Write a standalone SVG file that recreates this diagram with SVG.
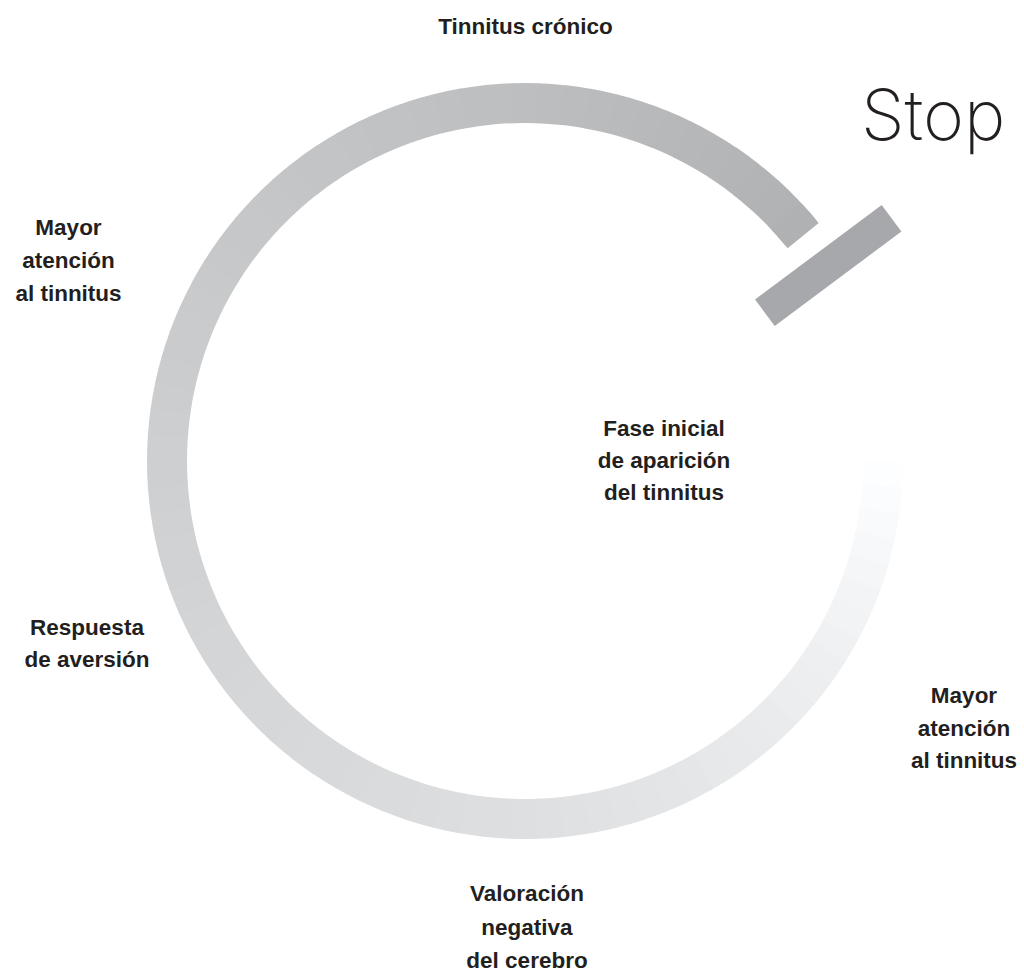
<svg xmlns="http://www.w3.org/2000/svg" width="1024" height="973" viewBox="0 0 1024 973">
<style>
.seg{fill:none;stroke-width:40;stroke-dasharray:26 3000}
.lbl{font-family:"Liberation Sans",Arial,sans-serif;font-weight:bold;font-size:22.5px;fill:#231f20;text-anchor:middle}
.stop{font-family:Inter,Roboto,"Liberation Sans",sans-serif;font-weight:200;font-size:70px;fill:#231f20}
</style>
<rect width="1024" height="973" fill="#ffffff"/>
<g id="connectors">
<g id="cycle-ring" transform="translate(525 461)">
<circle class="seg" r="358" transform="rotate(0)" stroke="#fdfeff"/>
<circle class="seg" r="358" transform="rotate(4)" stroke="#fbfcfe"/>
<circle class="seg" r="358" transform="rotate(8)" stroke="#f9fafc"/>
<circle class="seg" r="358" transform="rotate(12)" stroke="#f7f8fa"/>
<circle class="seg" r="358" transform="rotate(16)" stroke="#f5f6f8"/>
<circle class="seg" r="358" transform="rotate(20)" stroke="#f3f4f6"/>
<circle class="seg" r="358" transform="rotate(24)" stroke="#f2f3f5"/>
<circle class="seg" r="358" transform="rotate(28)" stroke="#f0f1f3"/>
<circle class="seg" r="358" transform="rotate(32)" stroke="#eeeff1"/>
<circle class="seg" r="358" transform="rotate(36)" stroke="#edeef0"/>
<circle class="seg" r="358" transform="rotate(40)" stroke="#ecedef"/>
<circle class="seg" r="358" transform="rotate(44)" stroke="#eaebed"/>
<circle class="seg" r="358" transform="rotate(48)" stroke="#e9eaec"/>
<circle class="seg" r="358" transform="rotate(52)" stroke="#e8e9eb"/>
<circle class="seg" r="358" transform="rotate(56)" stroke="#e7e8ea"/>
<circle class="seg" r="358" transform="rotate(60)" stroke="#e5e6e8"/>
<circle class="seg" r="358" transform="rotate(64)" stroke="#e4e5e7"/>
<circle class="seg" r="358" transform="rotate(68)" stroke="#e3e4e6"/>
<circle class="seg" r="358" transform="rotate(72)" stroke="#e2e3e5"/>
<circle class="seg" r="358" transform="rotate(76)" stroke="#e1e2e4"/>
<circle class="seg" r="358" transform="rotate(80)" stroke="#e0e1e3"/>
<circle class="seg" r="358" transform="rotate(84)" stroke="#dfe0e2"/>
<circle class="seg" r="358" transform="rotate(88)" stroke="#dedfe1"/>
<circle class="seg" r="358" transform="rotate(92)" stroke="#dddee0"/>
<circle class="seg" r="358" transform="rotate(96)" stroke="#dddee0"/>
<circle class="seg" r="358" transform="rotate(100)" stroke="#dcdddf"/>
<circle class="seg" r="358" transform="rotate(104)" stroke="#dbdcde"/>
<circle class="seg" r="358" transform="rotate(108)" stroke="#dadbdd"/>
<circle class="seg" r="358" transform="rotate(112)" stroke="#dadbdd"/>
<circle class="seg" r="358" transform="rotate(116)" stroke="#d9dadc"/>
<circle class="seg" r="358" transform="rotate(120)" stroke="#d8d9db"/>
<circle class="seg" r="358" transform="rotate(124)" stroke="#d8d9db"/>
<circle class="seg" r="358" transform="rotate(128)" stroke="#d7d8da"/>
<circle class="seg" r="358" transform="rotate(132)" stroke="#d6d7d9"/>
<circle class="seg" r="358" transform="rotate(136)" stroke="#d6d7d9"/>
<circle class="seg" r="358" transform="rotate(140)" stroke="#d5d6d8"/>
<circle class="seg" r="358" transform="rotate(144)" stroke="#d4d5d7"/>
<circle class="seg" r="358" transform="rotate(148)" stroke="#d4d5d7"/>
<circle class="seg" r="358" transform="rotate(152)" stroke="#d3d4d6"/>
<circle class="seg" r="358" transform="rotate(156)" stroke="#d2d3d5"/>
<circle class="seg" r="358" transform="rotate(160)" stroke="#d1d2d4"/>
<circle class="seg" r="358" transform="rotate(164)" stroke="#d1d2d4"/>
<circle class="seg" r="358" transform="rotate(168)" stroke="#d0d1d3"/>
<circle class="seg" r="358" transform="rotate(172)" stroke="#cfd0d2"/>
<circle class="seg" r="358" transform="rotate(176)" stroke="#cecfd1"/>
<circle class="seg" r="358" transform="rotate(180)" stroke="#cecfd1"/>
<circle class="seg" r="358" transform="rotate(184)" stroke="#cdced0"/>
<circle class="seg" r="358" transform="rotate(188)" stroke="#cccdcf"/>
<circle class="seg" r="358" transform="rotate(192)" stroke="#cbccce"/>
<circle class="seg" r="358" transform="rotate(196)" stroke="#cacbcd"/>
<circle class="seg" r="358" transform="rotate(200)" stroke="#cacbcd"/>
<circle class="seg" r="358" transform="rotate(204)" stroke="#c9cacc"/>
<circle class="seg" r="358" transform="rotate(208)" stroke="#c8c9cb"/>
<circle class="seg" r="358" transform="rotate(212)" stroke="#c7c8ca"/>
<circle class="seg" r="358" transform="rotate(216)" stroke="#c6c7c9"/>
<circle class="seg" r="358" transform="rotate(220)" stroke="#c6c7c9"/>
<circle class="seg" r="358" transform="rotate(224)" stroke="#c5c6c8"/>
<circle class="seg" r="358" transform="rotate(228)" stroke="#c4c5c7"/>
<circle class="seg" r="358" transform="rotate(232)" stroke="#c3c4c6"/>
<circle class="seg" r="358" transform="rotate(236)" stroke="#c3c4c6"/>
<circle class="seg" r="358" transform="rotate(240)" stroke="#c2c3c5"/>
<circle class="seg" r="358" transform="rotate(244)" stroke="#c1c2c4"/>
<circle class="seg" r="358" transform="rotate(248)" stroke="#c1c2c4"/>
<circle class="seg" r="358" transform="rotate(252)" stroke="#c0c1c3"/>
<circle class="seg" r="358" transform="rotate(256)" stroke="#bfc0c2"/>
<circle class="seg" r="358" transform="rotate(260)" stroke="#bebfc1"/>
<circle class="seg" r="358" transform="rotate(264)" stroke="#bebfc1"/>
<circle class="seg" r="358" transform="rotate(268)" stroke="#bdbec0"/>
<circle class="seg" r="358" transform="rotate(272)" stroke="#bcbdbf"/>
<circle class="seg" r="358" transform="rotate(276)" stroke="#bbbcbe"/>
<circle class="seg" r="358" transform="rotate(280)" stroke="#babbbd"/>
<circle class="seg" r="358" transform="rotate(284)" stroke="#b9babc"/>
<circle class="seg" r="358" transform="rotate(288)" stroke="#b8b9bb"/>
<circle class="seg" r="358" transform="rotate(292)" stroke="#b7b8ba"/>
<circle class="seg" r="358" transform="rotate(296)" stroke="#b6b7b9"/>
<circle class="seg" r="358" transform="rotate(300)" stroke="#b5b6b8"/>
<circle class="seg" r="358" transform="rotate(304)" stroke="#b4b5b7"/>
<circle class="seg" r="358" transform="rotate(308)" stroke="#b3b4b6"/>
<circle class="seg" r="358" transform="rotate(312)" stroke="#b2b3b5"/>
<circle class="seg" r="358" transform="rotate(316)" stroke="#b1b2b4"/>
<circle class="seg" r="358" transform="rotate(317)" stroke="#b0b1b3" style="stroke-dasharray:24.99 3000"/>
</g>
</g>
<g id="stop-bar">
<rect x="-79" y="-16.5" width="158" height="33" transform="translate(828.2 265.5) rotate(-36.7)" fill="#a7a8ab"/>
</g>
<g id="stop-label">
<text class="stop" x="861" y="140">Stop</text>
</g>
<g id="node-tinnitus-cronico">
<text class="lbl" x="525.5" y="34">Tinnitus crónico</text>
</g>
<g id="node-mayor-atencion-left">
<text class="lbl" x="68.5" y="235">Mayor</text>
<text class="lbl" x="68.5" y="268">atención</text>
<text class="lbl" x="68.5" y="301">al tinnitus</text>
</g>
<g id="node-fase-inicial">
<text class="lbl" x="664" y="436">Fase inicial</text>
<text class="lbl" x="664" y="468">de aparición</text>
<text class="lbl" x="664" y="500">del tinnitus</text>
</g>
<g id="node-respuesta">
<text class="lbl" x="87" y="635">Respuesta</text>
<text class="lbl" x="87" y="667">de aversión</text>
</g>
<g id="node-mayor-atencion-right">
<text class="lbl" x="964" y="703">Mayor</text>
<text class="lbl" x="964" y="736">atención</text>
<text class="lbl" x="964" y="768">al tinnitus</text>
</g>
<g id="node-valoracion">
<text class="lbl" x="527" y="901">Valoración</text>
<text class="lbl" x="527" y="935">negativa</text>
<text class="lbl" x="527" y="968">del cerebro</text>
</g>
</svg>
